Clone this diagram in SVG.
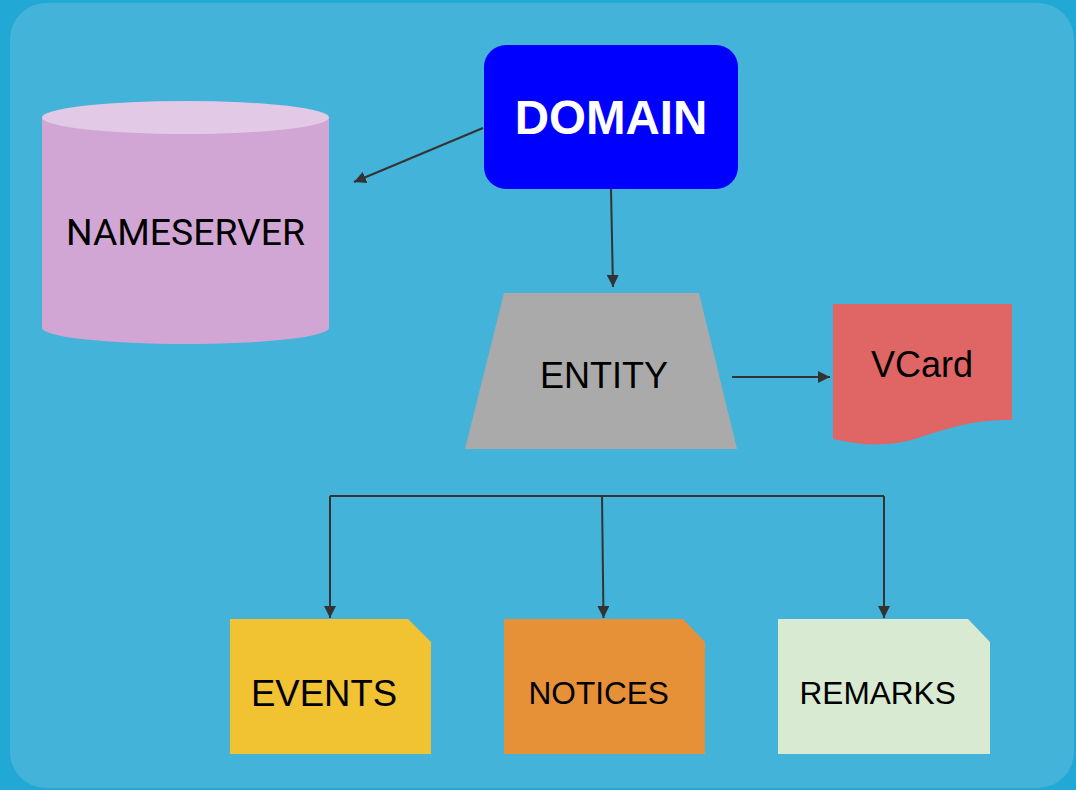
<svg xmlns="http://www.w3.org/2000/svg" width="1076" height="790" viewBox="0 0 1076 790">
<defs>
<style>
.lbl{font-family:"Liberation Sans",Arial,sans-serif;fill:#000}
.conn{stroke:#333;stroke-width:2;fill:none}
</style>
<marker id="ah" viewBox="0 0 10 10" refX="10" refY="5" markerWidth="6" markerHeight="6" markerUnits="strokeWidth" orient="auto">
<path d="M0,0 L10,5 L0,10 z" fill="#333"/>
</marker>
</defs>
<rect x="0" y="0" width="1076" height="790" fill="#22a8d4"/>
<rect x="10" y="3" width="1064" height="785" rx="36" fill="#43b3da"/>

<g id="connectors">
<path class="conn" d="M483,128 L354,182" marker-end="url(#ah)"/>
<path class="conn" d="M611,189 L613,287" marker-end="url(#ah)"/>
<path class="conn" d="M732,377 L830,377" marker-end="url(#ah)"/>
<path class="conn" d="M330,496 L884,496"/>
<path class="conn" d="M330,496 L330,618" marker-end="url(#ah)"/>
<path class="conn" d="M602,496 L603.5,618" marker-end="url(#ah)"/>
<path class="conn" d="M884,496 L884,618" marker-end="url(#ah)"/>
</g>

<g id="nameserver">
<path d="M42,117.5 V328 A143.5,16 0 0 0 329,328 V117.5 Z" fill="#d1a6d4"/>
<ellipse cx="185.5" cy="117.5" rx="143.5" ry="16.5" fill="#e2c9e6"/>
<text class="lbl" x="185.5" y="245" font-size="37.3" text-anchor="middle" style="font-family:Roboto,'Liberation Sans',sans-serif">NAMESERVER</text>
</g>

<g id="domain">
<rect x="484" y="45" width="254" height="144" rx="22" fill="#0000ff"/>
<text x="611" y="134" font-size="47.5" font-weight="bold" text-anchor="middle" fill="#fff" style="font-family:'Liberation Sans',Arial,sans-serif">DOMAIN</text>
</g>

<g id="entity">
<polygon points="504,293 699,293 737,449 465,449" fill="#aaaaaa"/>
<text class="lbl" x="604" y="388" font-size="36" text-anchor="middle">ENTITY</text>
</g>

<g id="vcard">
<path d="M833,304 H1012 V420 C975,419 948,428 918,438 C890,447 862,446 833,439 Z" fill="#e06666"/>
<text class="lbl" x="922" y="377" font-size="36" text-anchor="middle">VCard</text>
</g>

<g id="events">
<path d="M230,619 H408 L431,642 V754 H230 Z" fill="#f1c232"/>
<text class="lbl" x="251" y="706" font-size="36.5">EVENTS</text>
</g>

<g id="notices">
<path d="M504,619 H683 L705,642 V754 H504 Z" fill="#e69138"/>
<text class="lbl" x="528.5" y="704" font-size="31.6">NOTICES</text>
</g>

<g id="remarks">
<path d="M778,619 H968 L990,642 V754 H778 Z" fill="#d9ead3"/>
<text class="lbl" x="799.5" y="704" font-size="31.6">REMARKS</text>
</g>
</svg>
